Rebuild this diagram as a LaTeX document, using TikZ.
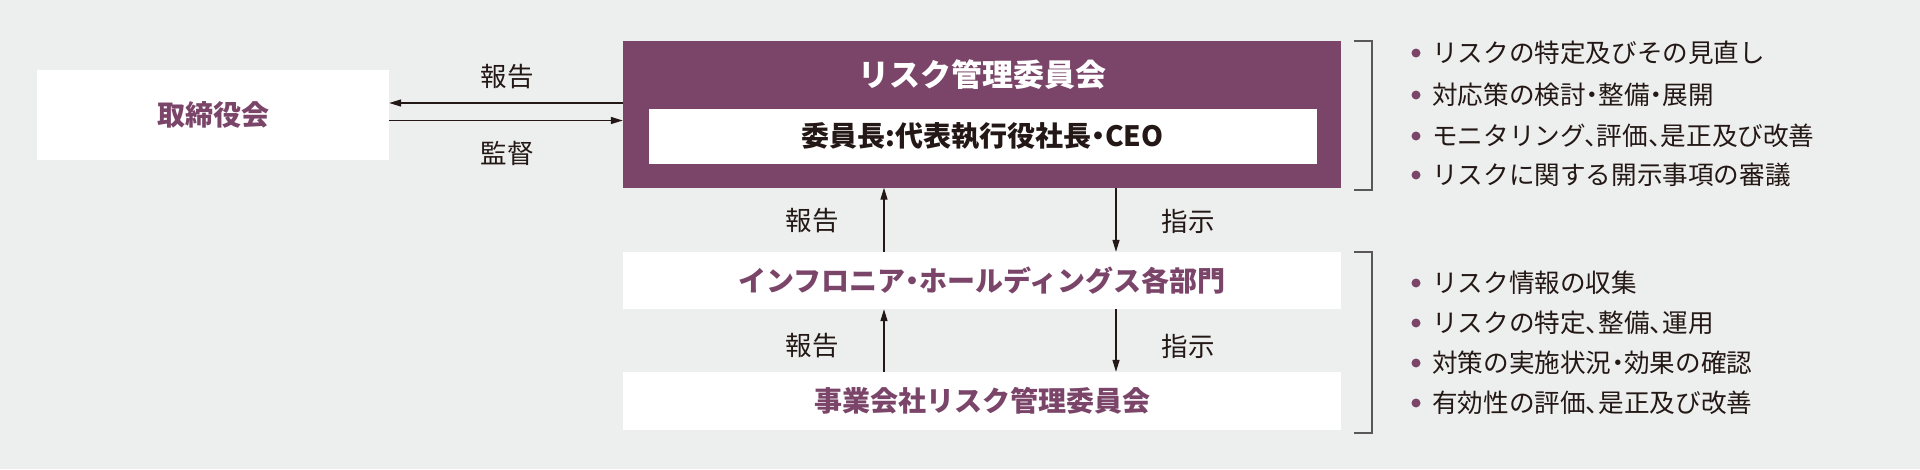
\documentclass[tikz,border=0pt]{standalone}
\usepackage{fontspec}
\setmainfont{Noto Sans CJK JP}[RawFeature=+halt]
\usetikzlibrary{arrows.meta}
\definecolor{bg}{HTML}{EDEFEE}
\definecolor{plum}{HTML}{7A4569}
\definecolor{ink}{HTML}{231815}
\definecolor{brk}{HTML}{595757}
\begin{document}
\begin{tikzpicture}[x=1pt,y=-1pt,
  wbox/.style={fill=white,draw=none,inner sep=0pt,anchor=center},
  ttl/.style={text=plum,font=\fontsize{28}{32}\selectfont\bfseries},
  lbl/.style={text=ink,inner sep=0pt,font=\fontsize{26.5}{30}\selectfont},
  arr/.style={draw=ink,line width=1.4pt,-{Triangle[length=12pt,width=7pt]}},
  brack/.style={draw=brk,line width=1.8pt},
  item/.style={anchor=west,inner sep=0pt,text=ink,font=\fontsize{25.6}{30}\selectfont},
  dot/.style={circle,fill=plum,inner sep=0pt,minimum size=9pt}]
\fill[bg] (0,0) rectangle (1920,469);
\useasboundingbox (0,0) rectangle (1920,469);
% boxes
\node[wbox,minimum width=352pt,minimum height=90pt] (board) at (213,114.5) {};
\node[ttl,inner sep=0pt] (boardt) at (board.center) {取締役会};
\node[fill=plum,draw=none,inner sep=0pt,minimum width=718pt,minimum height=147pt] (rmc) at (982,114) {};
\node[inner sep=0pt,text=white,font=\fontsize{31}{34}\selectfont\bfseries] (rmct) at (982,75) {リスク管理委員会};
\node[wbox,minimum width=668pt,minimum height=55pt] (chair) at (982.5,136) {};
\node[inner sep=0pt,text=ink,font=\fontsize{28}{32}\selectfont\bfseries] (chairt) at (chair.center) {委員長:代表執行役社長・CEO};
\node[wbox,minimum width=718pt,minimum height=57pt] (mid) at (982,280.5) {};
\node[ttl,inner sep=0pt] (midt) at (mid.center) {インフロニア・ホールディングス各部門};
\node[wbox,minimum width=718pt,minimum height=58pt] (bot) at (982,401) {};
\node[ttl,inner sep=0pt] (bott) at (bot.center) {事業会社リスク管理委員会};
% horizontal arrows
\draw[arr] ([yshift=11pt]rmc.west) -- ([yshift=11pt]rmc.west -| board.east);
\draw[arr] ([yshift=-6.5pt]rmc.west -| board.east) -- ([yshift=-6.5pt]rmc.west);
\node[lbl] (l1) at (507,77) {報告};
\node[lbl] (l2) at (507,153) {監督};
% vertical arrows
\draw[arr] ([xshift=-98pt]mid.north) -- ([xshift=-98pt]rmc.south);
\draw[arr] ([xshift=134pt]rmc.south) -- ([xshift=134pt]mid.north);
\draw[arr] ([xshift=-98pt]bot.north) -- ([xshift=-98pt]mid.south);
\draw[arr] ([xshift=134pt]mid.south) -- ([xshift=134pt]bot.north);
\node[lbl] (l3) at (812,221) {報告};
\node[lbl] (l4) at (1188,221) {指示};
\node[lbl] (l5) at (812,346) {報告};
\node[lbl] (l6) at (1188,346) {指示};
% brackets
\draw[brack] ([xshift=13pt,yshift=-1pt]rmc.north east) -- ++(18,0) |- ([xshift=13pt,yshift=-2pt]rmc.south east);
\draw[brack] ([xshift=13pt]mid.north east) -- ++(18,0) |- ([xshift=13pt,yshift=-3pt]bot.south east);
% bullet lists
\foreach \y/\t [count=\i] in {53/リスクの特定及びその見直し,95/対応策の検討・整備・展開,136/モニタリング、評価、是正及び改善,175/リスクに関する開示事項の審議}{
  \node[dot] (da\i) at (1416,\y) {};
  \node[item] (ta\i) at (1432,\y) {\t};
}
\foreach \y/\t [count=\i] in {283/リスク情報の収集,323/リスクの特定、整備、運用,363/対策の実施状況・効果の確認,403/有効性の評価、是正及び改善}{
  \node[dot] (db\i) at (1416,\y) {};
  \node[item] (tb\i) at (1432,\y) {\t};
}
\end{tikzpicture}
\end{document}
